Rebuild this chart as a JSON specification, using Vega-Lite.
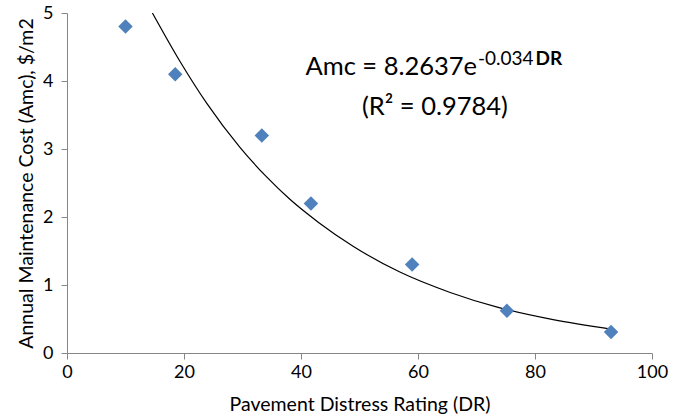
{
  "$schema": "https://vega.github.io/schema/vega-lite/v6.json",
  "autosize": "none",
  "width": 585,
  "height": 340,
  "padding": {"left": 67, "top": 13, "right": 29, "bottom": 67},
  "background": "white",
  "config": {"view": {"stroke": null}, "font": "Lato"},
  "datasets": {
    "points": [
      {"DR": 10, "Amc": 4.8},
      {"DR": 18.5, "Amc": 4.1},
      {"DR": 33.3, "Amc": 3.2},
      {"DR": 41.7, "Amc": 2.2},
      {"DR": 59, "Amc": 1.3},
      {"DR": 75.2, "Amc": 0.62},
      {"DR": 93, "Amc": 0.31}
    ],
    "trend": [
      {"DR": 14.6, "Amc": 5.0},
      {"DR": 19.3, "Amc": 4.29},
      {"DR": 23.9, "Amc": 3.67},
      {"DR": 29.6, "Amc": 3.02},
      {"DR": 34, "Amc": 2.6},
      {"DR": 38.1, "Amc": 2.26},
      {"DR": 43, "Amc": 1.92},
      {"DR": 48.9, "Amc": 1.57},
      {"DR": 56.9, "Amc": 1.19},
      {"DR": 65.5, "Amc": 0.89},
      {"DR": 73.7, "Amc": 0.67},
      {"DR": 83.1, "Amc": 0.49},
      {"DR": 93, "Amc": 0.35}
    ]
  },
  "layer": [
    {
      "data": {"name": "trend"},
      "mark": {"type": "line", "color": "black", "strokeWidth": 1.2, "interpolate": "monotone", "clip": true},
      "encoding": {
        "x": {"field": "DR", "type": "quantitative"},
        "y": {"field": "Amc", "type": "quantitative"}
      }
    },
    {
      "data": {"name": "points"},
      "mark": {"type": "point", "shape": "diamond", "filled": true, "color": "#4F81BD", "size": 210, "opacity": 1},
      "encoding": {
        "x": {"field": "DR", "type": "quantitative",
          "scale": {"domain": [0, 100], "nice": false, "zero": false},
          "axis": {"title": "Pavement Distress Rating (DR)", "values": [0, 20, 40, 60, 80, 100], "grid": false,
            "domainColor": "#868686", "tickColor": "#868686", "tickSize": 6, "labelFontSize": 18, "labelColor": "black",
            "titleFontSize": 19.5, "titleFontWeight": "normal", "titleColor": "black", "labelPadding": 4, "titlePadding": 14, "labelFlush": false}},
        "y": {"field": "Amc", "type": "quantitative",
          "scale": {"domain": [0, 5], "nice": false},
          "axis": {"title": "Annual Maintenance Cost (Amc), $/m2", "values": [0, 1, 2, 3, 4, 5], "format": "d", "grid": false,
            "domainColor": "#868686", "tickColor": "#868686", "tickSize": 6, "labelFontSize": 18, "labelColor": "black",
            "titleFontSize": 19.5, "titleFontWeight": "normal", "titleColor": "black", "labelPadding": 8, "titlePadding": 6, "labelFlush": false}}
      }
    },
    {
      "data": {"values": [{"label": "Amc = 8.2637e"}]},
      "mark": {"type": "text", "align": "right", "baseline": "alphabetic", "fontSize": 25.5, "fontWeight": "normal", "color": "black"},
      "encoding": {"x": {"datum": 70.1}, "y": {"datum": 4.088}, "text": {"field": "label"}}
    },
    {
      "data": {"values": [{"label": "-0.034"}]},
      "mark": {"type": "text", "align": "left", "baseline": "alphabetic", "fontSize": 19, "fontWeight": "normal", "color": "black"},
      "encoding": {"x": {"datum": 70.26}, "y": {"datum": 4.235}, "text": {"field": "label"}}
    },
    {
      "data": {"values": [{"label": "DR"}]},
      "mark": {"type": "text", "align": "left", "baseline": "alphabetic", "fontSize": 19, "fontWeight": "bold", "color": "black"},
      "encoding": {"x": {"datum": 80.1}, "y": {"datum": 4.235}, "text": {"field": "label"}}
    },
    {
      "data": {"values": [{"label": "(R² = 0.9784)"}]},
      "mark": {"type": "text", "align": "center", "baseline": "alphabetic", "fontSize": 25.5, "fontWeight": "normal", "color": "black"},
      "encoding": {"x": {"datum": 62.9}, "y": {"datum": 3.5}, "text": {"field": "label"}}
    }
  ]
}
